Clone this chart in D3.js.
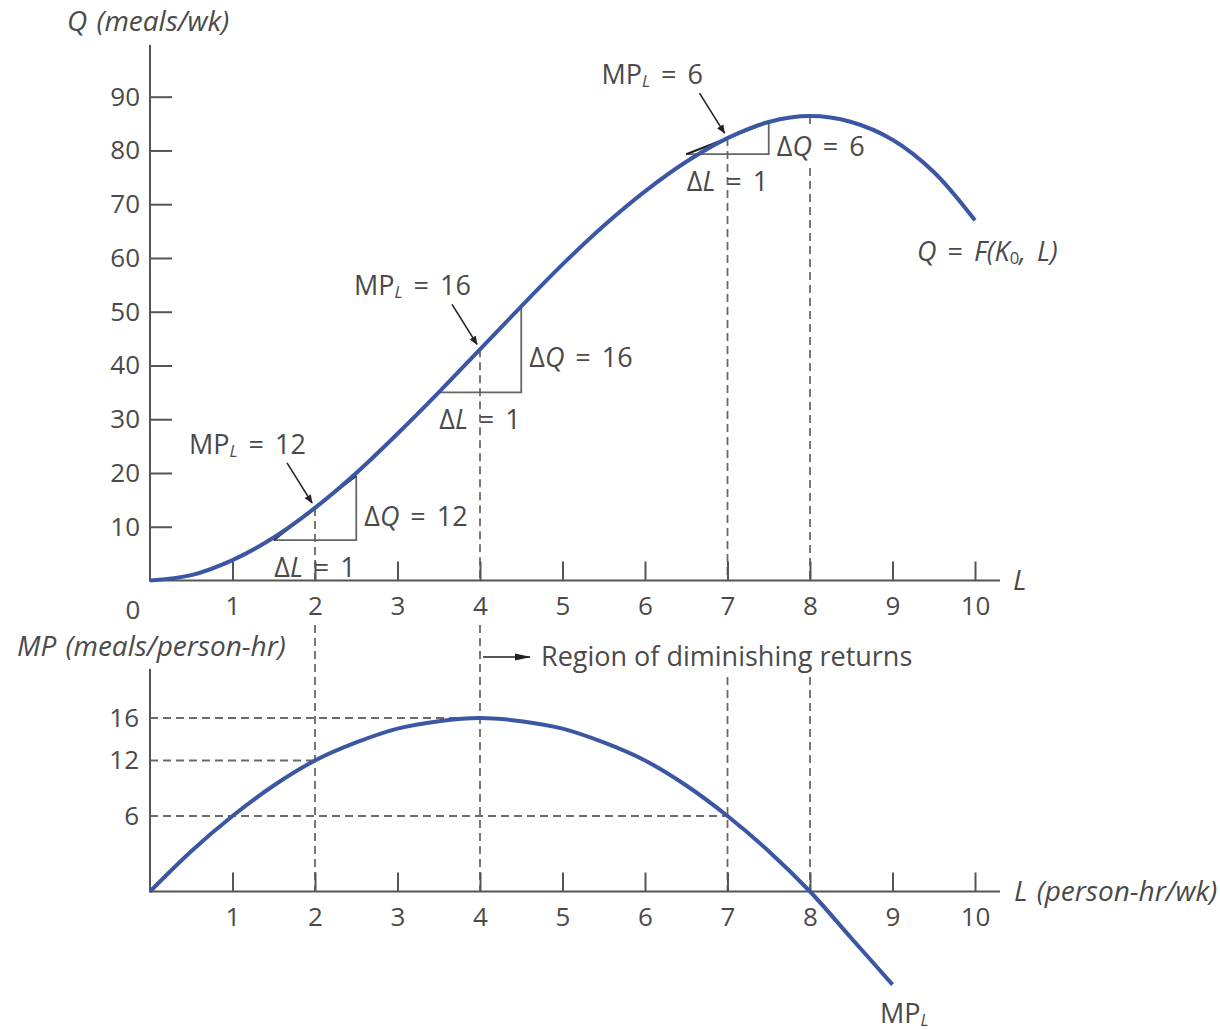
<!DOCTYPE html>
<html>
<head>
<meta charset="utf-8">
<script src="https://cdn.jsdelivr.net/npm/d3@7"></script>
<style>
  html, body { margin: 0; padding: 0; background: #fff; }
  svg text { font-family: "Open Sans", sans-serif; fill: #4a4a4a; }
</style>
</head>
<body>
<svg id="chart" width="1220" height="1029"></svg>
<script>
// Total product curve Q = F(K0, L), sampled every half person-hour
const L_GRID   = [0, 0.5, 1, 1.5, 2, 2.5, 3, 3.5, 4, 4.5, 5, 5.5, 6, 6.5, 7, 7.5, 8, 8.5, 9, 9.5, 10];
const Q_VALUES = [0, 1.0, 3.8, 8.0, 13.5, 20.0, 27.3, 35.0, 43.0, 51.0, 58.8, 66.0, 72.4, 77.9, 82.3, 85.3, 86.4, 85.3, 82.0, 76.0, 67.0];

// Marginal product of labour
const MP_L_GRID = [0, 0.5, 1, 1.5, 2, 2.5, 3, 3.5, 4, 4.5, 5, 5.5, 6, 6.5, 7, 7.5, 8, 8.5, 9];
const MP_VALUES = [0, 3.2, 6.0, 9.3, 12.0, 13.7, 15.0, 15.7, 16.0, 15.7, 15.0, 13.7, 12.0, 9.3, 6.0, 3.2, 0, -3.7, -7.4];

// Axis ticks
const X_TICKS  = [1, 2, 3, 4, 5, 6, 7, 8, 9, 10];
const Q_TICKS  = [10, 20, 30, 40, 50, 60, 70, 80, 90];
const MP_TICKS = [6, 12, 16];
const MP_TICK_L = [7, 2, 4];          // labour level where MP reaches each tick value

// Slope triangles: marginal product read at these labour levels
const TANGENT_L  = [2, 4, 7];
const TANGENT_MP = [12, 16, 6];

// Vertical guide lines
const GUIDE_L = [2, 4, 7, 8];

const svg = d3.select("#chart");
const x   = d3.scaleLinear().domain([0, 10]).range([150, 975]);
const yQ  = d3.scaleLinear().domain([0, 90]).range([580.5, 96.7]);
const yMP = d3.scaleLinear().domain([0, 6, 12, 16]).range([891.5, 816, 760.5, 718]);

const qAt = L => Q_VALUES[L_GRID.indexOf(L)];

const AXIS = "#555", DASH = "#6a6a6a", CURVE = "#3b56a2", INK = "#222";
const FS_TICK = 26, FS_LAB = 27, FS_TITLE = 28;

// ---------- arrowhead markers ----------
const defs = svg.append("defs");
defs.append("marker")
  .attr("id", "head").attr("viewBox", "0 0 10 10")
  .attr("refX", 9).attr("refY", 5)
  .attr("markerWidth", 9).attr("markerHeight", 9)
  .attr("markerUnits", "userSpaceOnUse")
  .attr("orient", "auto")
  .append("path").attr("d", "M0,1 L10,5 L0,9 Z").attr("fill", INK);
defs.append("marker")
  .attr("id", "headLong").attr("viewBox", "0 0 16 10")
  .attr("refX", 15).attr("refY", 5)
  .attr("markerWidth", 16).attr("markerHeight", 10)
  .attr("markerUnits", "userSpaceOnUse")
  .attr("orient", "auto")
  .append("path").attr("d", "M0,1.5 L16,5 L0,8.5 Z").attr("fill", INK);

// ---------- layers ----------
const gGuides = svg.append("g");
const gMasks  = svg.append("g");
const gAxes   = svg.append("g");
const gTri    = svg.append("g");
const gCurves = svg.append("g");
const gText   = svg.append("g");

// ---------- guide lines ----------
const guides = gGuides
  .attr("stroke", DASH).attr("stroke-width", 1.8).attr("stroke-dasharray", "8,5").attr("fill", "none");

GUIDE_L.forEach(L => {
  guides.append("line")
    .attr("x1", x(L)).attr("x2", x(L))
    .attr("y1", yQ(qAt(L))).attr("y2", yQ(0));
  guides.append("line")
    .attr("x1", x(L)).attr("x2", x(L))
    .attr("y1", L <= 4 ? 625 : 677).attr("y2", yMP(0));
});

MP_TICKS.forEach((v, i) => {
  guides.append("line")
    .attr("x1", x(0)).attr("x2", x(MP_TICK_L[i]))
    .attr("y1", yMP(v)).attr("y2", yMP(v));
});

// ---------- axes ----------
function styleAxis(g) {
  g.select(".domain").remove();
  g.selectAll(".tick line").attr("stroke", AXIS).attr("stroke-width", 2);
  g.selectAll(".tick text")
    .attr("font-size", FS_TICK).attr("fill", "#4a4a4a")
    .style("font-family", '"Open Sans", sans-serif');
}

// upper panel
gAxes.append("g").attr("transform", `translate(0,${yQ(0)})`)
  .call(d3.axisBottom(x).tickValues(X_TICKS).tickSize(-19).tickSizeOuter(0).tickPadding(16))
  .call(styleAxis);
gAxes.append("g").attr("transform", `translate(${x(0)},0)`)
  .call(d3.axisLeft(yQ).tickValues(Q_TICKS).tickSize(-22).tickSizeOuter(0).tickPadding(10))
  .call(styleAxis);

// lower panel
gAxes.append("g").attr("transform", `translate(0,${yMP(0)})`)
  .call(d3.axisBottom(x).tickValues(X_TICKS).tickSize(-19).tickSizeOuter(0).tickPadding(16))
  .call(styleAxis);
gAxes.append("g").attr("transform", `translate(${x(0)},0)`)
  .call(d3.axisLeft(yMP).tickValues(MP_TICKS).tickSize(0).tickSizeOuter(0).tickPadding(11))
  .call(styleAxis);

const axisLines = gAxes.append("g").attr("stroke", AXIS).attr("stroke-width", 2);
axisLines.append("line").attr("x1", x(0)).attr("x2", x(0)).attr("y1", 45).attr("y2", yQ(0) + 1);
axisLines.append("line").attr("x1", x(0)).attr("x2", 1000).attr("y1", yQ(0)).attr("y2", yQ(0));
axisLines.append("line").attr("x1", x(0)).attr("x2", x(0)).attr("y1", 669).attr("y2", yMP(0) + 1);
axisLines.append("line").attr("x1", x(0)).attr("x2", 1000).attr("y1", yMP(0)).attr("y2", yMP(0));

gAxes.append("text").attr("x", x(0) - 17).attr("y", yQ(0) + 28)
  .attr("text-anchor", "middle").attr("dominant-baseline", "central")
  .attr("font-size", FS_TICK).text("0");

// text helper: parts may be italic, subscript, or return from subscript
function label(xp, yp, size, parts, anchor) {
  const t = gText.append("text").attr("x", xp).attr("y", yp)
    .attr("font-size", size).attr("dominant-baseline", "central")
    .attr("text-anchor", anchor || "start")
    .attr("word-spacing", 4);
  parts.forEach(p => {
    const s = t.append("tspan").text(p.t);
    if (p.i) s.attr("font-style", "italic");
    if (p.sub) s.attr("font-size", size * 0.62).attr("dy", 7);
    if (p.up) s.attr("dy", -7);
  });
  return t;
}

// axis titles
label(67, 20, FS_TITLE, [{t: "Q (meals/wk)", i: true}]).attr("word-spacing", 2);
label(1013, 579, FS_TITLE, [{t: "L", i: true}]);
label(17, 645, FS_TITLE, [{t: "MP (meals/person-hr)", i: true}]).attr("word-spacing", 2);
label(1014, 890, FS_TITLE, [{t: "L (person-hr/wk)", i: true}]).attr("word-spacing", 2);

// ---------- slope triangles ----------
TANGENT_L.forEach((L, i) => {
  const q = qAt(L), mp = TANGENT_MP[i];
  const lo = q - mp / 2, hi = q + mp / 2;
  // legs ΔL and ΔQ
  gTri.append("path")
    .attr("d", d3.line()([[x(L - 0.5), yQ(lo)], [x(L + 0.5), yQ(lo)], [x(L + 0.5), yQ(hi)]]))
    .attr("fill", "none").attr("stroke", "#666").attr("stroke-width", 1.8);
  // slope line (hypotenuse)
  gTri.append("line")
    .attr("x1", x(L - 0.5)).attr("y1", yQ(lo))
    .attr("x2", x(L + 0.5)).attr("y2", yQ(hi))
    .attr("stroke", INK).attr("stroke-width", 2);
});

// ---------- curves ----------
const qLine = d3.line().x((d, i) => x(L_GRID[i])).y(d => yQ(d)).curve(d3.curveCatmullRom.alpha(0.5));
gCurves.append("path").datum(Q_VALUES).attr("d", qLine)
  .attr("fill", "none").attr("stroke", CURVE).attr("stroke-width", 4);

const mpLine = d3.line().x((d, i) => x(MP_L_GRID[i])).y(d => yMP(d)).curve(d3.curveCatmullRom.alpha(0.5));
gCurves.append("path").datum(MP_VALUES).attr("d", mpLine)
  .attr("fill", "none").attr("stroke", CURVE).attr("stroke-width", 4);

// ---------- triangle annotations ----------
TANGENT_L.forEach((L, i) => {
  const q = qAt(L), mp = TANGENT_MP[i];
  const px = x(L), py = yQ(q);

  // MP_L = value, with arrow pointing at the curve
  label(px - 126, py - 65, FS_LAB, [{t: "MP"}, {t: "L", i: true, sub: true}, {t: " = " + mp, up: true}]);
  gText.append("line")
    .attr("x1", px - 28).attr("y1", py - 45)
    .attr("x2", px - 3).attr("y2", py - 5)
    .attr("stroke", INK).attr("stroke-width", 1.6)
    .attr("marker-end", "url(#head)");

  // ΔQ label beside the vertical leg; the guide line behind it is blanked out
  const dq = label(x(L + 0.5) + 8, py + 7, FS_LAB, [{t: "Δ"}, {t: "Q", i: true}, {t: " = " + mp}]);
  if (L === 7) {
    const b = dq.node().getBBox();
    gMasks.append("rect")
      .attr("x", b.x - 3).attr("y", b.y - 2).attr("width", b.width + 6).attr("height", b.height + 4)
      .attr("fill", "#fff");
  }
  // ΔL label under the base
  label(px, yQ(q - mp / 2) + 26, FS_LAB, [{t: "Δ"}, {t: "L", i: true}, {t: " = 1"}], "middle");
});

// ---------- other labels ----------
label(917, 250, FS_LAB, [{t: "Q", i: true}, {t: " = "}, {t: "F(K", i: true}, {t: "0", sub: true}, {t: ", L)", i: true, up: true}]);
label(880, 1012, FS_LAB, [{t: "MP"}, {t: "L", i: true, sub: true}]);

gText.append("line")
  .attr("x1", x(4) + 3).attr("x2", x(4) + 50)
  .attr("y1", 657).attr("y2", 657)
  .attr("stroke", INK).attr("stroke-width", 1.6)
  .attr("marker-end", "url(#headLong)");
label(541, 655, FS_LAB, [{t: "Region of diminishing returns"}]).attr("word-spacing", 0);
</script>
</body>
</html>
